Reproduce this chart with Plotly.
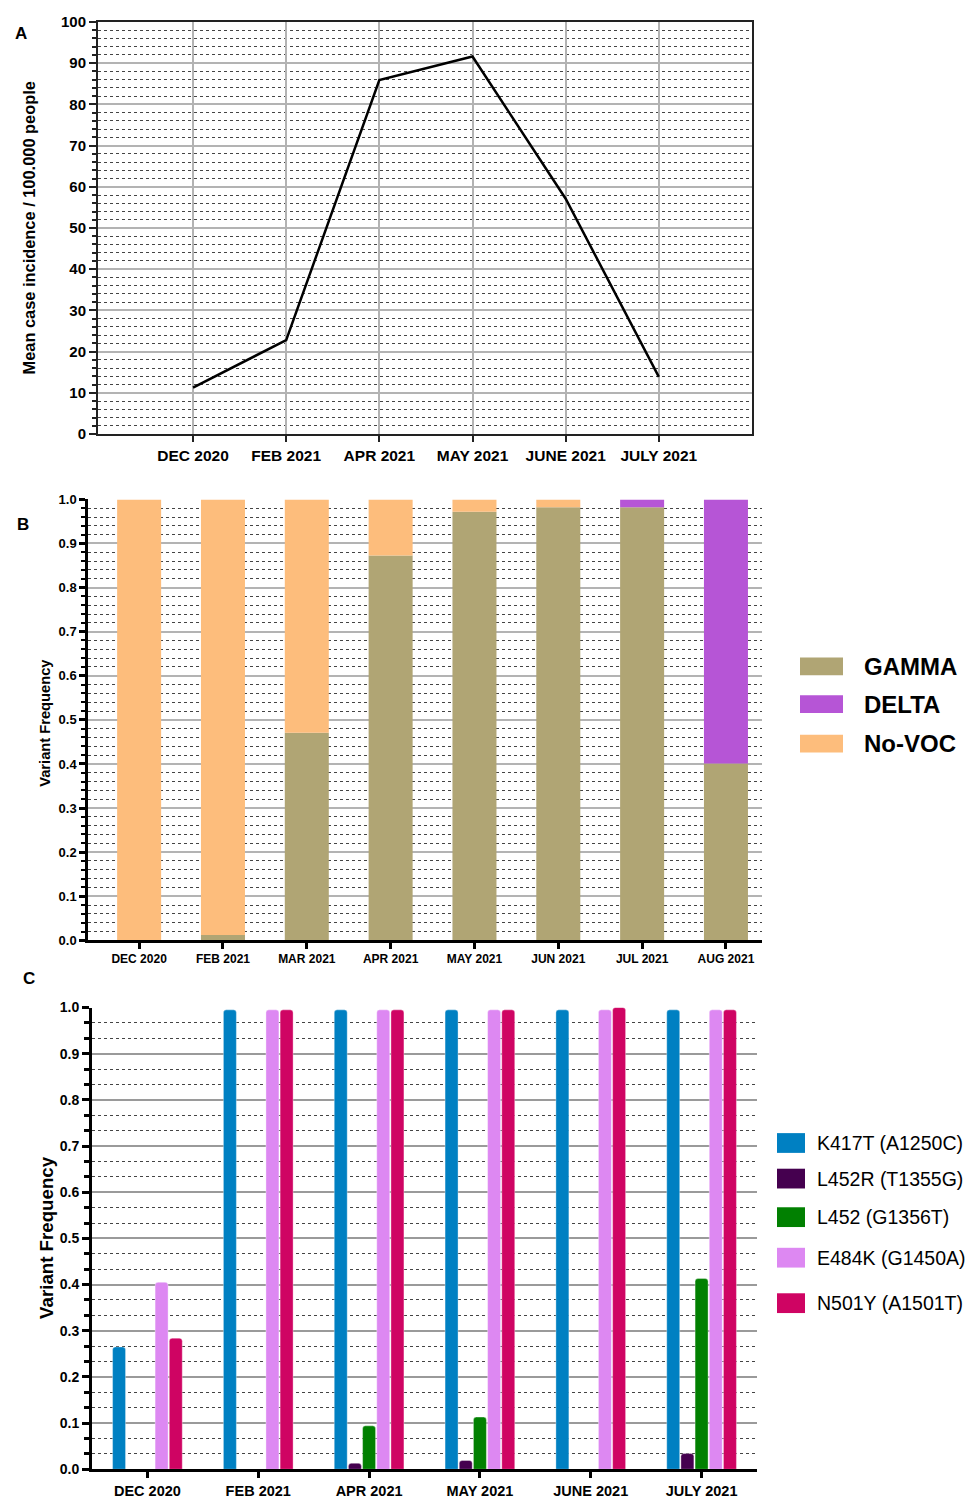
import plotly.graph_objects as go

# ---------------- data ----------------
months_a = ["DEC 2020", "FEB 2021", "APR 2021", "MAY 2021", "JUNE 2021", "JULY 2021"]
incidence = [11.3, 22.8, 85.9, 91.6, 57.1, 13.9]

months_b = ["DEC 2020", "FEB 2021", "MAR 2021", "APR 2021", "MAY 2021", "JUN 2021", "JUL 2021", "AUG 2021"]
gamma = [0.0, 0.012, 0.471, 0.873, 0.972, 0.982, 0.982, 0.401]
delta = [0.0, 0.0, 0.0, 0.0, 0.0, 0.0, 0.018, 0.599]
novoc = [1.0, 0.988, 0.529, 0.127, 0.028, 0.018, 0.0, 0.0]

months_c = ["DEC 2020", "FEB 2021", "APR 2021", "MAY 2021", "JUNE 2021", "JULY 2021"]
mut_names = ["K417T (A1250C)", "L452R (T1355G)", "L452 (G1356T)", "E484K (G1450A)", "N501Y (A1501T)"]
k417t = [0.265, 0.995, 0.995, 0.995, 0.995, 0.995]
l452r = [0.0, 0.0, 0.013, 0.019, 0.0, 0.034]
l452 = [0.0, 0.0, 0.094, 0.113, 0.0, 0.413]
e484k = [0.405, 0.995, 0.995, 0.995, 0.995, 0.995]
n501y = [0.284, 0.995, 0.995, 0.995, 1.0, 0.995]

# ---------------- helpers ----------------
W, H = 978, 1500
FONT = "Liberation Sans"


def xd(a, b):
    return [a / W, b / W]


def yd(top, bottom):
    return [1 - bottom / H, 1 - top / H]


def px(x):
    return x / W


def py(y):
    return 1 - y / H


fig = go.Figure()

# ---------------- Panel A ----------------
fig.add_trace(go.Scatter(x=months_a, y=incidence, mode="lines",
                         line=dict(color="black", width=2.5),
                         xaxis="x", yaxis="y", showlegend=False))

# ---------------- Panel B ----------------
b_colors = {"GAMMA": "#b0a574", "DELTA": "#b655d6", "No-VOC": "#fdbd7c"}
base_delta = gamma
base_novoc = [g + d for g, d in zip(gamma, delta)]
wb = 0.525
for name, vals, base in [("GAMMA", gamma, None), ("DELTA", delta, base_delta), ("No-VOC", novoc, base_novoc)]:
    fig.add_trace(go.Bar(x=months_b, y=vals, base=base, name=name,
                         marker=dict(color=b_colors[name], line=dict(width=0)),
                         width=wb, offset=-wb / 2,
                         xaxis="x2", yaxis="y2", showlegend=False))

# ---------------- Panel C ----------------
c_colors = ["#0080c2", "#45004f", "#018001", "#dd88f2", "#cf0463"]
c_series = [k417t, l452r, l452, e484k, n501y]
slot = 14.2 / 111
wc = 13.0 / 111
for i, (name, vals) in enumerate(zip(mut_names, c_series)):
    center = (i - 2) * slot
    fig.add_trace(go.Bar(x=months_c, y=vals, name=name,
                         marker=dict(color=c_colors[i], cornerradius=3,
                                     line=dict(width=0.6, color="rgba(255,255,255,0.6)")),
                         width=wc, offset=center - wc / 2,
                         xaxis="x3", yaxis="y3", showlegend=False))

# ---------------- axes ----------------
tickfont_ax = dict(family=FONT, size=15.5, color="black", weight=700)
tickfont_ay = dict(family=FONT, size=15, color="black", weight=700)
fig.update_layout(
    xaxis=dict(domain=xd(98, 752), anchor="y", type="category", range=[-1.02, 6.0],
               showgrid=True, gridcolor="#b3b3b3", gridwidth=1.5,
               showline=True, linecolor="#222", linewidth=2, mirror=True,
               ticks="outside", ticklen=6, tickwidth=2, tickcolor="#222",
               tickfont=tickfont_ax, zeroline=False),
    yaxis=dict(domain=yd(13, 430), anchor="x", range=[0, 100], dtick=10, tick0=0,
               showgrid=True, gridcolor="#b3b3b3", gridwidth=1.5,
               showline=True, linecolor="#222", linewidth=2, mirror=True,
               ticks="outside", ticklen=7, tickwidth=2, tickcolor="#222",
               tickfont=tickfont_ay, zeroline=False,
               minor=dict(dtick=2, tick0=0, showgrid=True, griddash="dot",
                          gridcolor="#444", gridwidth=1,
                          ticks="outside", ticklen=4, tickwidth=1.5, tickcolor="#222")),
)

tickfont_bx = dict(family=FONT, size=12, color="black", weight=700)
tickfont_by = dict(family=FONT, size=13, color="black", weight=700)
fig.update_layout(
    xaxis2=dict(domain=xd(88, 762), anchor="y2", type="category", range=[-0.61, 7.43],
                showgrid=False, showline=True, linecolor="black", linewidth=2.5,
                ticks="outside", ticklen=6, tickwidth=2.5, tickcolor="black",
                tickfont=tickfont_bx, zeroline=False),
    yaxis2=dict(domain=yd(496, 942), anchor="x2", range=[0, 1.0], dtick=0.1, tick0=0,
                tickformat=".1f",
                showgrid=True, gridcolor="#b3b3b3", gridwidth=1.5,
                showline=True, linecolor="black", linewidth=2.5,
                ticks="outside", ticklen=6, tickwidth=2.5, tickcolor="black",
                tickfont=tickfont_by, zeroline=False,
                minor=dict(dtick=0.02, tick0=0, showgrid=True, griddash="dot",
                           gridcolor="#444", gridwidth=1,
                           ticks="outside", ticklen=4, tickwidth=2, tickcolor="black")),
)

tickfont_cx = dict(family=FONT, size=14.5, color="black", weight=700)
tickfont_cy = dict(family=FONT, size=14, color="black", weight=700)
minor_c = [round(k / 30, 6) for k in range(31) if k % 3 != 0]
fig.update_layout(
    xaxis3=dict(domain=xd(92, 757), anchor="y3", type="category", range=[-0.5, 5.5],
                showgrid=False, showline=True, linecolor="black", linewidth=3,
                ticks="outside", ticklen=6, tickwidth=3, tickcolor="black",
                tickfont=tickfont_cx, zeroline=False),
    yaxis3=dict(domain=yd(1010, 1477), anchor="x3", range=[0, 1.0], dtick=0.1, tick0=0,
                tickformat=".1f",
                showgrid=True, gridcolor="#9a9a9a", gridwidth=1.5,
                showline=True, linecolor="black", linewidth=3,
                ticks="outside", ticklen=7, tickwidth=3, tickcolor="black",
                tickfont=tickfont_cy, zeroline=False,
                minor=dict(tickmode="array", tickvals=minor_c, showgrid=True, griddash="dot",
                           gridcolor="#444", gridwidth=1,
                           ticks="outside", ticklen=5, tickwidth=3, tickcolor="black")),
)

# ---------------- annotations (titles, panel letters, legends) ----------------
ann = []
bold = dict(family=FONT, color="black", weight=700)
ann.append(dict(x=px(21), y=py(25), text="A", font=dict(size=17, **bold)))
ann.append(dict(x=px(23), y=py(521), text="B", font=dict(size=17, **bold)))
ann.append(dict(x=px(29), y=py(981), text="C", font=dict(size=17, **bold)))
ann.append(dict(x=px(29), y=py(222), text="Mean case incidence / 100.000 people",
                textangle=-90, font=dict(size=16.4, **bold)))
ann.append(dict(x=px(45), y=py(722), text="Variant Frequency",
                textangle=-90, font=dict(size=14.7, **bold)))
ann.append(dict(x=px(47), y=py(1243), text="Variant Frequency",
                textangle=-90, font=dict(size=18.7, **bold)))

shapes = []
# legend B
for name, yc in [("GAMMA", 665), ("DELTA", 703), ("No-VOC", 743)]:
    shapes.append(dict(type="rect", xref="paper", yref="paper",
                       x0=px(800), x1=px(843), y0=py(yc + 9), y1=py(yc - 9),
                       fillcolor=b_colors[name], line=dict(width=0)))
    ann.append(dict(x=px(862), y=py(yc), text=name, xanchor="left",
                    font=dict(size=24, **bold)))
# legend C
for i, (name, yc) in enumerate(zip(mut_names, [1147, 1183, 1222, 1263, 1309])):
    shapes.append(dict(type="rect", xref="paper", yref="paper",
                       x0=px(777), x1=px(805), y0=py(yc + 10), y1=py(yc - 10),
                       fillcolor=c_colors[i], line=dict(width=0)))
    ann.append(dict(x=px(815), y=py(yc), text=name, xanchor="left",
                    font=dict(family=FONT, size=19.5, color="black")))

for a in ann:
    a.setdefault("xref", "paper")
    a.setdefault("yref", "paper")
    a.setdefault("showarrow", False)
    a.setdefault("xanchor", "center")
    a.setdefault("yanchor", "middle")

fig.update_layout(
    width=W, height=H,
    margin=dict(l=0, r=0, t=0, b=0),
    paper_bgcolor="white", plot_bgcolor="white",
    barmode="overlay",
    showlegend=False,
    hovermode=False,
    annotations=ann, shapes=shapes,
    font=dict(family=FONT, color="black"),
)

fig.write_html("out.html",
               config={"displayModeBar": False},
               post_script="document.body.style.margin='0';document.body.style.overflow='hidden';")
